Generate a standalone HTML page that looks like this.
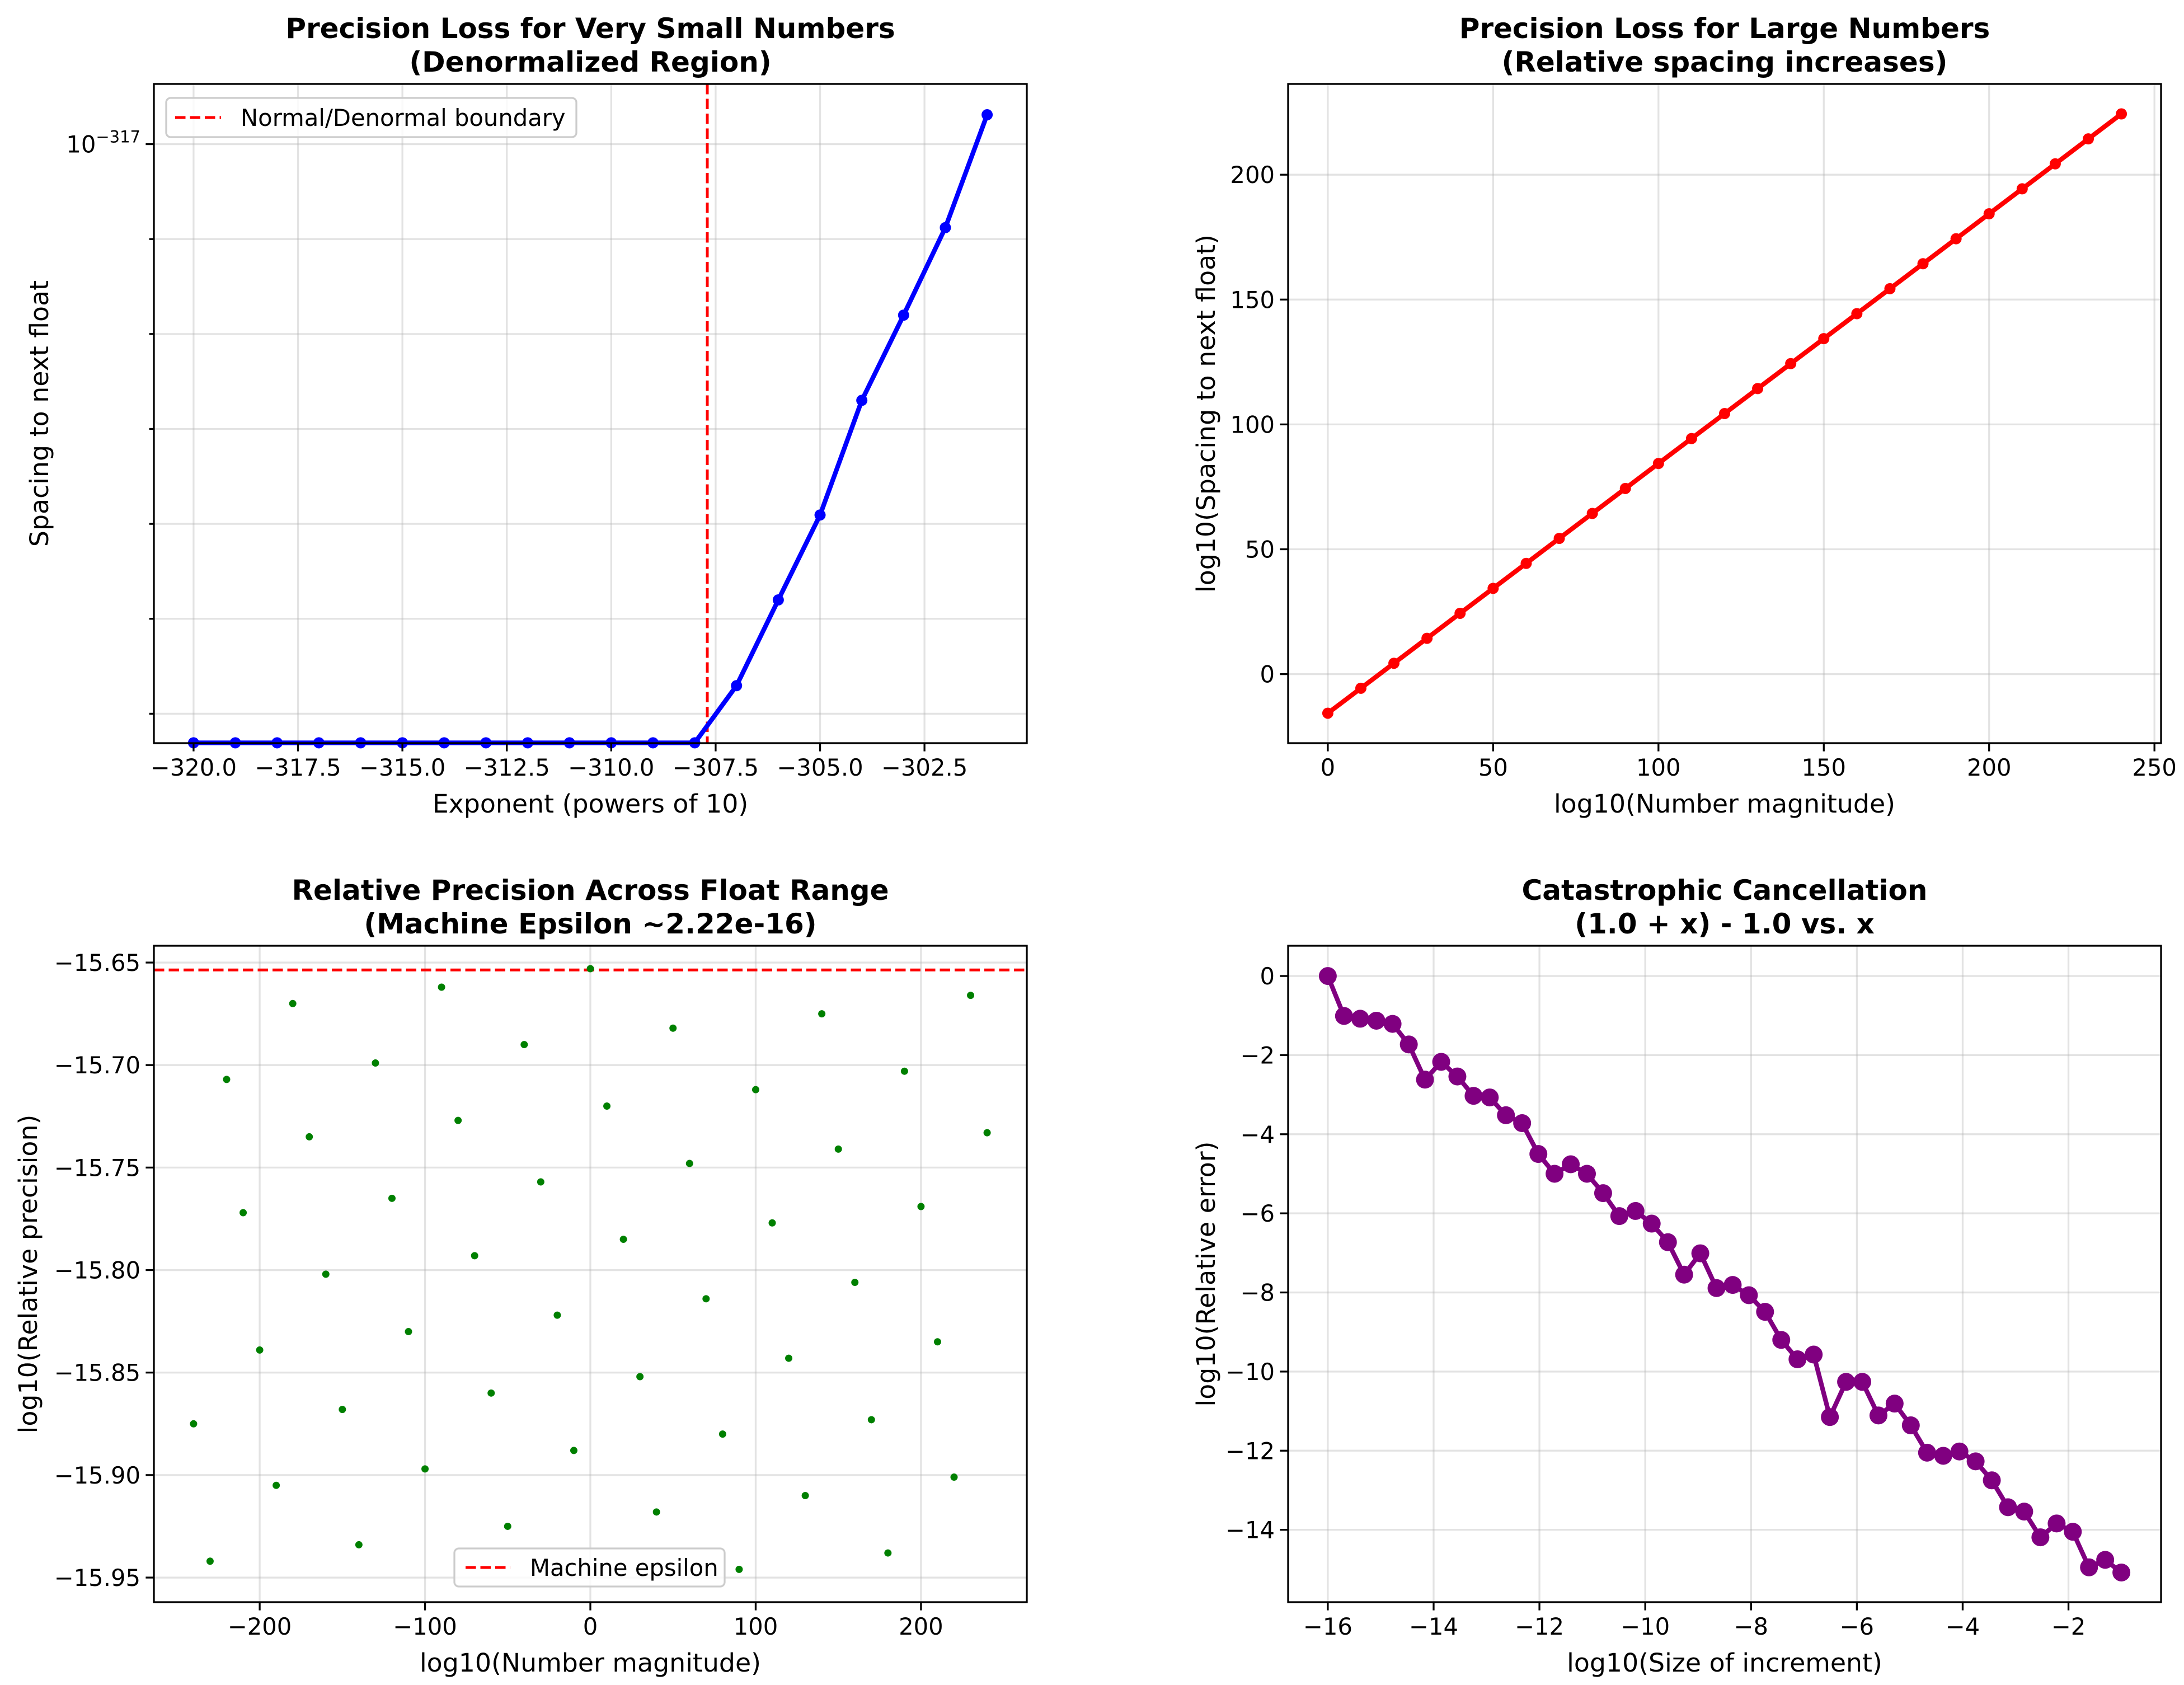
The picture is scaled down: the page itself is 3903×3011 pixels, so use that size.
<!DOCTYPE html>
<html><head><meta charset="utf-8"><style>
html,body{margin:0;padding:0;background:#fff;}
svg{display:block;font-family:"DejaVu Sans","Liberation Sans",sans-serif;}
</style></head><body>
<svg id="fig" width="3903" height="3011" viewBox="0 0 3903 3011" xmlns="http://www.w3.org/2000/svg">
<rect width="3903" height="3011" fill="#fff"/>
</svg>
<script>
// Panel 1: denormal spacing
const p1Exponents = [-320,-319,-318,-317,-316,-315,-314,-313,-312,-311,-310,-309,-308,-307,-306,-305,-304,-303,-302,-301];
const p1Spacing = [4.94e-324,4.94e-324,4.94e-324,4.94e-324,4.94e-324,4.94e-324,4.94e-324,4.94e-324,4.94e-324,4.94e-324,4.94e-324,4.94e-324,4.94e-324,1.98e-323,1.6e-322,1.24e-321,2.0e-320,1.58e-319,1.32e-318,2.04e-317];
const p1Boundary = -307.7;
const p1XTicks = [-320,-317.5,-315,-312.5,-310,-307.5,-305,-302.5];
const p1XTickLabels = ["\u2212320.0","\u2212317.5","\u2212315.0","\u2212312.5","\u2212310.0","\u2212307.5","\u2212305.0","\u2212302.5"];
const p1YDecades = [-323,-322,-321,-320,-319,-318,-317];
// Panel 2: large numbers
const p2Magnitude = [0,10,20,30,40,50,60,70,80,90,100,110,120,130,140,150,160,170,180,190,200,210,220,230,240];
const p2LogSpacing = [-15.65,-5.65,4.35,14.35,24.35,34.35,44.35,54.35,64.35,74.35,84.35,94.35,104.35,114.35,124.35,134.35,144.35,154.35,164.35,174.35,184.35,194.35,204.35,214.35,224.35];
const p2XTicks = [0,50,100,150,200,250];
const p2YTicks = [0,50,100,150,200];
// Panel 3: relative precision
const p3Magnitude = [-240,-230,-220,-210,-200,-190,-180,-170,-160,-150,-140,-130,-120,-110,-100,-90,-80,-70,-60,-50,-40,-30,-20,-10,0,10,20,30,40,50,60,70,80,90,100,110,120,130,140,150,160,170,180,190,200,210,220,230,240];
const p3LogRel = [-15.875,-15.942,-15.707,-15.772,-15.839,-15.905,-15.670,-15.735,-15.802,-15.868,-15.934,-15.699,-15.765,-15.830,-15.897,-15.662,-15.727,-15.793,-15.860,-15.925,-15.690,-15.757,-15.822,-15.888,-15.653,-15.720,-15.785,-15.852,-15.918,-15.682,-15.748,-15.814,-15.880,-15.946,-15.712,-15.777,-15.843,-15.910,-15.675,-15.741,-15.806,-15.873,-15.938,-15.703,-15.769,-15.835,-15.901,-15.666,-15.733];
const p3Epsilon = -15.6536;
const p3XTicks = [-200,-100,0,100,200];
const p3YTicks = [-15.65,-15.70,-15.75,-15.80,-15.85,-15.90,-15.95];
// Panel 4: catastrophic cancellation
const p4Increment = [-16,-15.694,-15.388,-15.082,-14.776,-14.469,-14.163,-13.857,-13.551,-13.245,-12.939,-12.633,-12.327,-12.020,-11.714,-11.408,-11.102,-10.796,-10.490,-10.184,-9.878,-9.571,-9.265,-8.959,-8.653,-8.347,-8.041,-7.735,-7.429,-7.122,-6.816,-6.510,-6.204,-5.898,-5.592,-5.286,-4.980,-4.673,-4.367,-4.061,-3.755,-3.449,-3.143,-2.837,-2.531,-2.224,-1.918,-1.612,-1.306,-1];
const p4LogErr = [0,-1.01,-1.08,-1.13,-1.21,-1.73,-2.62,-2.17,-2.54,-3.03,-3.07,-3.52,-3.72,-4.50,-5.00,-4.76,-5.00,-5.49,-6.07,-5.94,-6.26,-6.73,-7.55,-7.01,-7.89,-7.81,-8.07,-8.49,-9.20,-9.69,-9.57,-11.15,-10.26,-10.26,-11.11,-10.81,-11.36,-12.05,-12.13,-12.02,-12.27,-12.75,-13.43,-13.54,-14.19,-13.84,-14.05,-14.95,-14.76,-15.08];
const p4XTicks = [-16,-14,-12,-10,-8,-6,-4,-2];
const p4YTicks = [0,-2,-4,-6,-8,-10,-12,-14];

const NS = "http://www.w3.org/2000/svg";
const fig = document.getElementById('fig');
function mk(tag, attrs, parent, text){
  const e = document.createElementNS(NS, tag);
  for (const k in attrs) e.setAttribute(k, attrs[k]);
  if (text !== undefined) e.textContent = text;
  (parent || fig).appendChild(e);
  return e;
}
function scale(d0,d1,r0,r1){ return v => r0 + (v-d0)/(d1-d0)*(r1-r0); }
const FS = 41.7, LFS = 45.8, TFS = 50;
const gridCol = "#b0b0b0";

function panel(name, L, R, T, B, title1, title2, xlabel, ylabel, ylabelX){
  const g = mk('g', {});
  
  
  const t = mk('text', {x:(L+R)/2, y:T-82, 'text-anchor':'middle', 'font-size':TFS, 'font-weight':'bold'}, g);
  
  
  mk('tspan', {x:(L+R)/2, dy:0}, t, title1);
  mk('tspan', {x:(L+R)/2, dy:60}, t, title2);
  const xl = mk('text', {x:(L+R)/2, y:B+124, 'text-anchor':'middle', 'font-size':LFS}, g, xlabel);
  
  
  const cy = (T+B)/2;
  const yl = mk('text', {x:ylabelX, y:cy, 'text-anchor':'middle', 'font-size':LFS, transform:`rotate(-90 ${ylabelX} ${cy})`, 'dominant-baseline':'central'}, g, ylabel);
  
  
  const grid = mk('g', {}, g);
  
  
  const plot = mk('g', {}, g);
  
  
  return {g, grid, plot, L, R, T, B};
}
function xtick(P, px, label){
  mk('line', {x1:px, x2:px, y1:P.T, y2:P.B, stroke:gridCol, 'stroke-opacity':0.35, 'stroke-width':3.3}, P.grid);
  mk('line', {x1:px, x2:px, y1:P.B, y2:P.B+14.6, stroke:'#000', 'stroke-width':3.3}, P.g);
  const t = mk('text', {x:px, y:P.B+58, 'text-anchor':'middle', 'font-size':FS}, P.g, label);
  
  
}
function ytick(P, py, label, len){
  mk('line', {x1:P.L, x2:P.R, y1:py, y2:py, stroke:gridCol, 'stroke-opacity':0.35, 'stroke-width':3.3}, P.grid);
  mk('line', {x1:P.L-(len||14.6), x2:P.L, y1:py, y2:py, stroke:'#000', 'stroke-width':3.3}, P.g);
  if (label !== null){
    const t = mk('text', {x:P.L-24, y:py+15, 'text-anchor':'end', 'font-size':FS}, P.g, label);
    
    
  }
}
function frame(P){
  const r = mk('rect', {x:P.L, y:P.T, width:P.R-P.L, height:P.B-P.T, fill:'none', stroke:'#000', 'stroke-width':3.3}, P.g);
  
  
}
function fmtNum(v, dec){ const s = dec !== undefined ? Math.abs(v).toFixed(dec) : String(Math.abs(v)); return (v<0?'\u2212':'') + s; }

// ---------- Panel 1 ----------
{
  const P = panel('denormal-panel', 275, 1835, 150, 1328, 'Precision Loss for Very Small Numbers', '(Denormalized Region)', 'Exponent (powers of 10)', 'Spacing to next float', 70);
  const X = scale(-320.95, -300.05, P.L, P.R);
  const Y = scale(-323.31, -316.366, P.B, P.T);
  p1XTicks.forEach((v,i)=>xtick(P, X(v), p1XTickLabels[i]));
  p1YDecades.forEach(d=>{
    const py = Y(d);
    ytick(P, py, null, d===-317 ? 14.6 : 8.3);
  });
  const lab = mk('text', {x:P.L-24, y:Y(-317)+15, 'text-anchor':'end', 'font-size':FS}, P.g);
  
  
  mk('tspan', {}, lab, '10');
  mk('tspan', {'font-size':29, dy:-18}, lab, '\u2212317');
  const bl = mk('line', {x1:X(p1Boundary), x2:X(p1Boundary), y1:P.T, y2:P.B, stroke:'#ff0000', 'stroke-width':5, 'stroke-dasharray':'18.5,8'}, P.plot);
  
  
  const pts = p1Exponents.map((x,i)=>[X(x), Y(Math.log10(p1Spacing[i]))]);
  const ln = mk('polyline', {points:pts.map(p=>p.join(',')).join(' '), fill:'none', stroke:'#0000ff', 'stroke-width':8.3, 'stroke-linejoin':'round'}, P.plot);
  
  
  pts.forEach(p=>{
    const c = mk('circle', {cx:p[0], cy:p[1], r:10, fill:'#0000ff'}, P.plot);
    
    
  });
  frame(P);
  const lg = mk('g', {}, P.g);
  
  
  mk('rect', {x:297, y:175, width:733, height:70, rx:8, fill:'#fff', 'fill-opacity':0.8, stroke:'#cccccc', 'stroke-width':3.3}, lg);
  mk('line', {x1:313, x2:395, y1:210, y2:210, stroke:'#ff0000', 'stroke-width':5, 'stroke-dasharray':'18.5,8'}, lg);
  const lt = mk('text', {x:430, y:225, 'font-size':FS}, lg, 'Normal/Denormal boundary');
  
  
}

// ---------- Panel 2 ----------
{
  const P = panel('large-numbers-panel', 2302, 3862, 150, 1328, 'Precision Loss for Large Numbers', '(Relative spacing increases)', 'log10(Number magnitude)', 'log10(Spacing to next float)', 2155);
  const X = scale(-12, 252, P.L, P.R);
  const Y = scale(-27.65, 236.35, P.B, P.T);
  p2XTicks.forEach(v=>xtick(P, X(v), fmtNum(v)));
  p2YTicks.forEach(v=>ytick(P, Y(v), fmtNum(v)));
  const pts = p2Magnitude.map((x,i)=>[X(x), Y(p2LogSpacing[i])]);
  const ln = mk('polyline', {points:pts.map(p=>p.join(',')).join(' '), fill:'none', stroke:'#ff0000', 'stroke-width':8.3}, P.plot);
  
  
  pts.forEach(p=>{
    const c = mk('circle', {cx:p[0], cy:p[1], r:10, fill:'#ff0000'}, P.plot);
    
    
  });
  frame(P);
}

// ---------- Panel 3 ----------
{
  const P = panel('relative-precision-panel', 275, 1835, 1690, 2863, 'Relative Precision Across Float Range', '(Machine Epsilon ~2.22e-16)', 'log10(Number magnitude)', 'log10(Relative precision)', 50);
  const X = scale(-264, 264, P.L, P.R);
  const Y = scale(-15.962, -15.6418, P.B, P.T);
  p3XTicks.forEach(v=>xtick(P, X(v), fmtNum(v)));
  p3YTicks.forEach(v=>ytick(P, Y(v), fmtNum(v, 2)));
  const el = mk('line', {x1:P.L, x2:P.R, y1:Y(p3Epsilon), y2:Y(p3Epsilon), stroke:'#ff0000', 'stroke-width':5, 'stroke-dasharray':'18.5,8'}, P.plot);
  
  
  p3Magnitude.forEach((x,i)=>{
    const c = mk('circle', {cx:X(x), cy:Y(p3LogRel[i]), r:6.5, fill:'#008000'}, P.plot);
    
    
  });
  frame(P);
  const lg = mk('g', {}, P.g);
  
  
  mk('rect', {x:812, y:2767, width:483, height:68, rx:8, fill:'#fff', 'fill-opacity':0.8, stroke:'#cccccc', 'stroke-width':3.3}, lg);
  mk('line', {x1:832, x2:912, y1:2801, y2:2801, stroke:'#ff0000', 'stroke-width':5, 'stroke-dasharray':'18.5,8'}, lg);
  const lt = mk('text', {x:947, y:2816, 'font-size':FS}, lg, 'Machine epsilon');
  
  
}

// ---------- Panel 4 ----------
{
  const P = panel('cancellation-panel', 2302, 3862, 1690, 2863, 'Catastrophic Cancellation', '(1.0 + x) - 1.0 vs. x', 'log10(Size of increment)', 'log10(Relative error)', 2155);
  const X = scale(-16.75, -0.25, P.L, P.R);
  const Y = scale(-15.83, 0.765, P.B, P.T);
  p4XTicks.forEach(v=>xtick(P, X(v), fmtNum(v)));
  p4YTicks.forEach(v=>ytick(P, Y(v), fmtNum(v)));
  const pts = p4Increment.map((x,i)=>[X(x), Y(p4LogErr[i])]);
  const ln = mk('polyline', {points:pts.map(p=>p.join(',')).join(' '), fill:'none', stroke:'#800080', 'stroke-width':8.3, 'stroke-linejoin':'round'}, P.plot);
  
  
  pts.forEach(p=>{
    const c = mk('circle', {cx:p[0], cy:p[1], r:16, fill:'#800080'}, P.plot);
    
    
  });
  frame(P);
}
</script>
</body></html>
